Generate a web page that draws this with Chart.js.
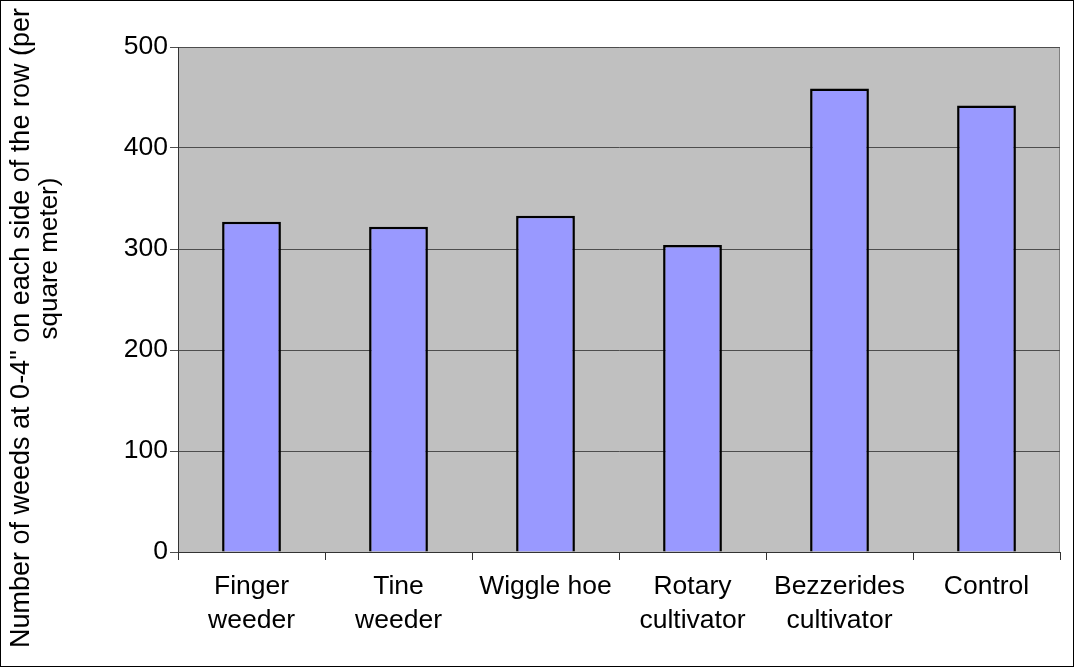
<!DOCTYPE html>
<html>
  <head>
    <meta charset="utf-8">
    <title>Weeds per square meter</title>
    <style>
      body { margin: 0; background: #fff; }
      canvas { display: block; }
    </style>
  </head>
  <body>
    <canvas id="chart1" width="1074" height="667"></canvas>

    <script src="https://cdn.jsdelivr.net/npm/chart.js@4.4.1/dist/chart.umd.min.js"></script>
    <script type="text/javascript">
      // data
      var categories = [
        ['Finger', 'weeder'],
        ['Tine', 'weeder'],
        'Wiggle hoe',
        ['Rotary', 'cultivator'],
        ['Bezzerides', 'cultivator'],
        'Control'
      ]
      var weeds = [327, 322, 333, 304, 459, 442]
      var yTicks = [0, 100, 200, 300, 400, 500]
      var yTitle = ['Number of weeds at 0-4" on each side of the row (per', 'square meter)']

      var fontFam = '"Liberation Sans", Arial, sans-serif'

      // gray plot area + outer frame
      var frame = {
        id: 'frame',
        beforeDraw: function(chart) {
          var c = chart.ctx, a = chart.chartArea
          c.save()
          c.fillStyle = '#C0C0C0'
          c.fillRect(a.left, a.top, a.right - a.left, a.bottom - a.top)
          c.strokeStyle = '#808080'
          c.lineWidth = 1
          c.strokeRect(a.left + 0.5, a.top + 0.5, a.right - a.left - 1, a.bottom - a.top)
          c.restore()
        },
        afterDraw: function(chart) {
          var c = chart.ctx, a = chart.chartArea
          c.save()
          c.strokeStyle = '#000'
          c.lineWidth = 1
          c.strokeRect(0.5, 0.5, chart.width - 1, chart.height - 1)
          // y axis title, drawn by hand: the long first line runs off the top like the original
          c.fillStyle = '#000'
          c.textBaseline = 'middle'
          c.save()
          c.font = '27px ' + fontFam
          c.textAlign = 'left'
          c.translate(22, chart.height - 19)
          c.rotate(-Math.PI / 2)
          c.fillText(yTitle[0], 0, 0)
          c.restore()
          c.font = '26px ' + fontFam
          c.textAlign = 'center'
          c.translate(50, (a.top + a.bottom) / 2 - 41)
          c.rotate(-Math.PI / 2)
          c.fillText(yTitle[1], 0, 0)
          c.restore()
        }
      }

      var ctx = document.getElementById('chart1').getContext('2d')
      var chart1 = new Chart(ctx, {
        type: 'bar',
        data: {
          labels: categories,
          datasets: [{
            data: weeds,
            backgroundColor: '#9999FF',
            borderColor: '#000',
            borderWidth: 2.5,
            barPercentage: 0.4,
            categoryPercentage: 1
          }]
        },
        options: {
          animation: false,
          responsive: false,
          devicePixelRatio: 1,
          layout: { padding: { top: 47, right: 14, left: 0, bottom: 0 } },
          plugins: {
            legend: { display: false },
            tooltip: { enabled: false }
          },
          scales: {
            x: {
              afterFit: function(s) { s.height = 115 },
              grid: { drawOnChartArea: false, offset: true, tickLength: 8, color: '#333' },
              border: { color: '#333', width: 1 },
              ticks: {
                color: '#000',
                maxRotation: 0,
                autoSkip: false,
                padding: 9,
                font: { family: fontFam, size: 26.5, lineHeight: 1.3 }
              }
            },
            y: {
              min: 0,
              max: 500,
              afterFit: function(s) { s.width = 178 },
              afterBuildTicks: function(s) { s.ticks = yTicks.map(function(v) { return { value: v } }) },
              grid: { color: '#4d4d4d', tickLength: 8, lineWidth: 1 },
              border: { color: '#333', width: 1 },
              ticks: {
                color: '#000',
                padding: 2,
                font: { family: fontFam, size: 26.5 }
              }
            }
          }
        },
        plugins: [frame]
      })
    </script>
  </body>
</html>
